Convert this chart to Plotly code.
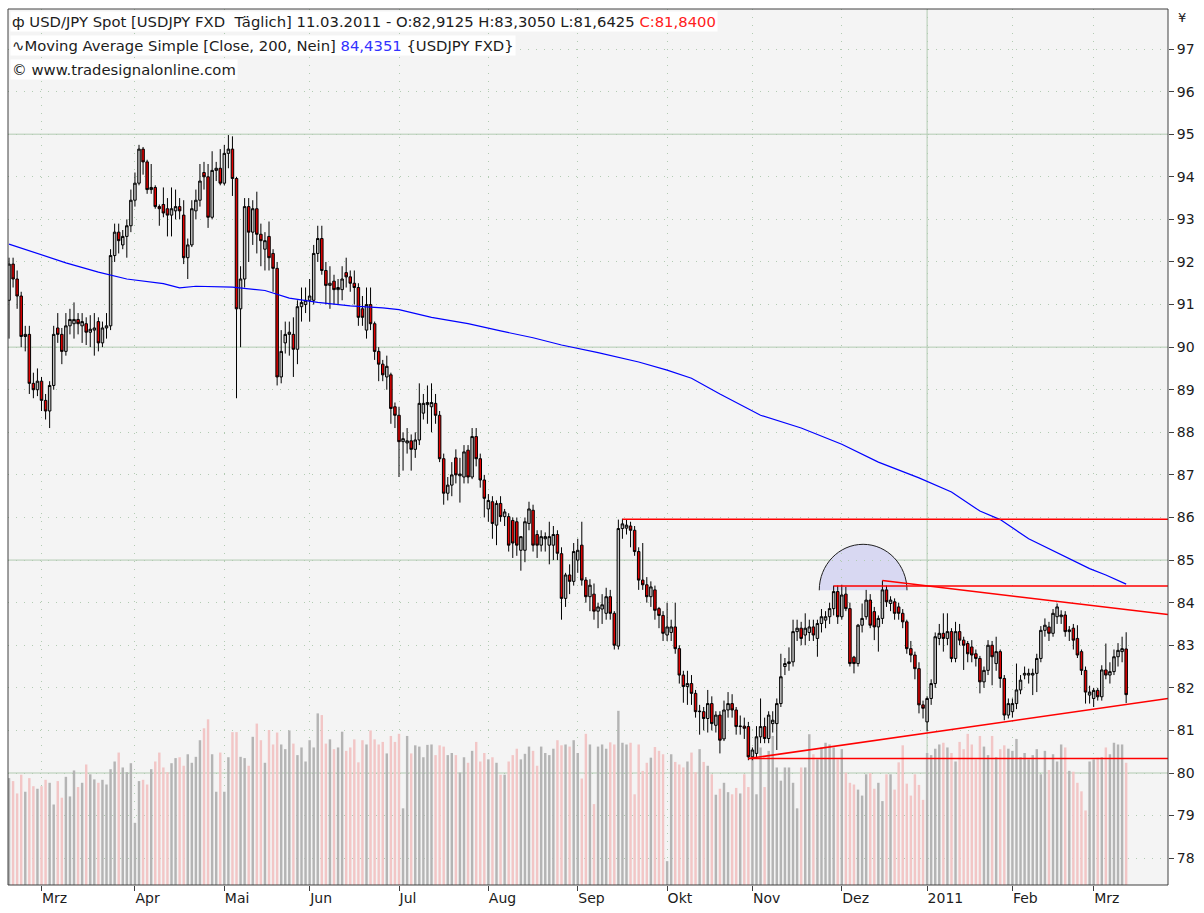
import pandas as pd
import plotly.graph_objects as go

# ---------------------------------------------------------------- data
FIRST_DAY = "2010-02-17"
LAST_DAY = "2011-03-11"
HOLIDAYS = ["2010-12-24", "2010-12-31"]          # no candles on these days

# (open, high, low, close) per trading day, month by month
OHLC_2010_02 = [
    (91.1, 92.1, 90.2, 91.95), (91.95, 92.1, 91.4, 91.6), (91.6, 91.8, 90.9, 91.2),
    (91.2, 91.3, 90.0, 90.25), (90.25, 90.5, 89.9, 90.3), (90.3, 90.5, 88.9, 89.15),
    (89.15, 89.4, 88.8, 89.0), (89.0, 89.5, 88.85, 89.2)]
OHLC_2010_03 = [
    (89.2, 89.3, 88.5, 88.75), (88.75, 88.9, 88.3, 88.5), (88.5, 89.2, 88.1, 89.1),
    (89.1, 90.5, 89.0, 90.3), (90.45, 90.8, 90.1, 90.3), (90.3, 90.45, 89.6, 89.9),
    (89.9, 90.8, 89.8, 90.5), (90.5, 90.9, 90.3, 90.65), (90.55, 91.05, 90.2, 90.65),
    (90.65, 90.8, 90.3, 90.55), (90.5, 90.8, 90.1, 90.6), (90.55, 90.7, 90.05, 90.35),
    (90.35, 90.75, 90.0, 90.42), (90.4, 90.8, 89.8, 90.45), (90.6, 90.7, 89.9, 90.1),
    (90.1, 90.6, 90.0, 90.45), (90.45, 90.8, 90.2, 90.5), (90.5, 92.3, 90.4, 92.15),
    (92.15, 92.9, 92.0, 92.7), (92.7, 92.9, 92.2, 92.5), (92.4, 92.75, 92.3, 92.6),
    (92.6, 93.0, 92.1, 92.85), (92.85, 93.7, 92.7, 93.45)]
OHLC_2010_04 = [
    (93.45, 94.1, 93.3, 93.85), (93.85, 94.75, 93.8, 94.65), (94.65, 94.7, 94.05, 94.35),
    (94.35, 94.4, 93.6, 93.7), (93.7, 94.3, 93.6, 93.75), (93.75, 93.8, 93.25, 93.3),
    (93.3, 93.35, 92.85, 93.25), (93.35, 93.75, 93.05, 93.15), (93.25, 93.5, 92.6, 93.1),
    (93.1, 93.75, 92.6, 93.25), (93.2, 93.7, 93.0, 93.3), (93.3, 93.5, 93.0, 93.2),
    (93.1, 93.45, 91.95, 92.1), (92.1, 92.55, 91.6, 92.4), (92.4, 93.45, 92.35, 93.25),
    (93.2, 93.7, 93.0, 93.45), (93.45, 94.3, 93.3, 93.9), (94.1, 94.35, 93.7, 94.0),
    (94.0, 94.3, 92.8, 93.05), (93.05, 94.6, 93.0, 94.15), (94.15, 94.35, 93.9, 94.2),
    (94.2, 94.65, 93.8, 93.85)]
OHLC_2010_05 = [
    (93.85, 94.75, 93.8, 94.55), (94.55, 94.98, 94.2, 94.65), (94.65, 94.95, 93.55, 93.96),
    (93.96, 94.0, 88.8, 90.9), (90.9, 91.9, 90.0, 91.6), (91.6, 93.5, 91.4, 93.3),
    (93.3, 93.5, 92.0, 92.7), (92.7, 93.45, 92.4, 93.25), (93.25, 93.65, 92.2, 92.65),
    (92.65, 92.9, 91.9, 92.5), (92.3, 92.7, 91.8, 92.5), (92.6, 92.95, 91.8, 92.1),
    (92.2, 92.3, 91.3, 91.85), (91.85, 92.0, 89.1, 89.3), (89.3, 90.4, 89.15, 89.9),
    (90.1, 90.6, 89.85, 90.3), (90.3, 90.6, 89.8, 90.35), (90.3, 90.7, 89.3, 89.95),
    (89.95, 91.1, 89.6, 90.95), (90.95, 91.4, 90.6, 91.05), (91.0, 91.4, 90.8, 91.1)]
OHLC_2010_06 = [
    (91.1, 91.6, 90.6, 91.2), (91.1, 92.4, 91.0, 92.2), (92.2, 92.85, 92.0, 92.55),
    (92.55, 92.85, 91.7, 91.8), (91.8, 92.0, 91.0, 91.45), (91.45, 91.9, 90.9, 91.5),
    (91.55, 91.7, 91.0, 91.35), (91.35, 91.6, 91.0, 91.4), (91.35, 91.9, 91.1, 91.6),
    (91.75, 92.1, 91.4, 91.65), (91.65, 91.8, 91.3, 91.5), (91.5, 91.8, 91.0, 91.4),
    (91.4, 91.5, 90.5, 90.7), (90.9, 91.2, 90.5, 90.7), (90.4, 91.4, 90.2, 91.0),
    (91.0, 91.4, 90.4, 90.55), (90.55, 90.6, 89.7, 89.9), (89.9, 90.0, 89.2, 89.6),
    (89.6, 89.7, 89.2, 89.35), (89.3, 89.8, 89.0, 89.55), (89.35, 89.4, 88.2, 88.56),
    (88.6, 88.7, 88.1, 88.4)]
OHLC_2010_07 = [
    (88.4, 88.6, 86.95, 87.78), (87.78, 88.0, 87.1, 87.85), (87.75, 88.1, 87.5, 87.8),
    (87.8, 87.95, 87.1, 87.6), (87.6, 88.0, 87.4, 87.82), (87.82, 89.15, 87.7, 88.68),
    (88.45, 88.9, 88.3, 88.68), (88.65, 89.1, 88.2, 88.7), (88.6, 89.15, 88.0, 88.7),
    (88.68, 88.9, 88.2, 88.4), (88.4, 88.5, 87.3, 87.38), (87.38, 87.5, 86.3, 86.57),
    (86.57, 86.95, 86.4, 86.76), (86.76, 87.3, 86.5, 87.0), (87.4, 87.6, 86.8, 87.0),
    (86.98, 87.4, 86.35, 87.02), (86.95, 87.7, 86.8, 87.54), (87.58, 87.7, 86.8, 86.95),
    (86.95, 88.1, 86.9, 87.9), (87.9, 88.1, 87.2, 87.38), (87.38, 87.5, 86.7, 86.88),
    (86.88, 87.0, 86.0, 86.45)]
OHLC_2010_08 = [
    (86.2, 86.55, 85.9, 86.4), (86.37, 86.5, 85.5, 85.86), (85.82, 86.4, 85.35, 86.33),
    (86.33, 86.5, 85.9, 86.02), (86.02, 86.2, 85.8, 86.13), (86.02, 86.1, 85.2, 85.35),
    (85.93, 86.0, 85.05, 85.4), (85.9, 86.0, 85.1, 85.35), (85.23, 85.55, 84.75, 85.55),
    (85.23, 86.0, 84.95, 85.9), (85.86, 86.37, 85.7, 86.2), (86.17, 86.3, 85.2, 85.35),
    (85.6, 85.7, 85.05, 85.35), (85.35, 85.7, 85.2, 85.55), (85.5, 85.65, 85.2, 85.55),
    (85.35, 85.9, 84.9, 85.55), (85.35, 85.8, 85.0, 85.6), (85.6, 85.7, 85.0, 85.16),
    (85.15, 85.3, 83.6, 84.1), (84.1, 84.7, 83.9, 84.65), (84.65, 84.9, 84.2, 84.5),
    (84.5, 85.4, 84.4, 85.2)]
OHLC_2010_09 = [
    (85.0, 85.5, 84.7, 85.23), (85.35, 85.9, 84.4, 84.53), (84.53, 84.6, 84.0, 84.14),
    (84.14, 84.55, 83.8, 84.41), (84.2, 84.45, 83.6, 83.8), (83.8, 84.0, 83.4, 83.9),
    (83.85, 84.2, 83.5, 83.95), (83.75, 84.35, 83.6, 84.14), (84.14, 84.3, 83.6, 83.75),
    (83.75, 83.8, 82.9, 83.0), (82.98, 85.95, 82.9, 85.74), (85.74, 85.97, 85.5, 85.85),
    (85.75, 85.95, 85.6, 85.82), (85.8, 85.9, 85.3, 85.7), (85.7, 85.8, 85.1, 85.2),
    (85.2, 85.3, 84.3, 84.53), (84.53, 85.4, 84.3, 84.42), (84.42, 84.6, 84.0, 84.14),
    (84.14, 84.5, 83.9, 84.37), (84.3, 84.4, 83.6, 83.82), (83.86, 83.9, 83.4, 83.7),
    (83.7, 83.8, 83.1, 83.28)]
OHLC_2010_10 = [
    (83.24, 84.0, 83.1, 83.43), (83.3, 83.6, 83.1, 83.43), (83.43, 84.0, 82.8, 82.92),
    (82.92, 83.0, 82.1, 82.3), (82.3, 82.4, 81.65, 82.03), (82.03, 82.4, 81.6, 82.1),
    (82.1, 82.3, 81.6, 81.87), (81.87, 81.95, 81.3, 81.44), (81.44, 81.6, 80.9, 81.45),
    (81.44, 81.55, 81.0, 81.28), (81.28, 81.95, 80.95, 81.63), (81.63, 81.8, 81.0, 81.16),
    (81.12, 81.45, 80.95, 81.36), (81.36, 81.45, 80.46, 80.77), (80.8, 81.7, 80.75, 81.48),
    (81.48, 81.9, 81.3, 81.63), (81.63, 81.85, 81.3, 81.48), (81.48, 81.55, 80.9, 81.09),
    (81.09, 81.35, 80.9, 81.1), (81.1, 81.3, 80.8, 81.05), (81.09, 81.2, 80.3, 80.38)]
OHLC_2010_11 = [
    (80.38, 80.6, 80.3, 80.54), (80.46, 81.1, 80.35, 80.85), (80.85, 81.75, 80.7, 81.09),
    (81.09, 81.3, 80.7, 80.81), (80.81, 81.45, 80.7, 81.36), (81.16, 81.45, 80.95, 81.24),
    (81.16, 81.75, 80.54, 81.63), (81.63, 82.8, 81.55, 82.26), (82.5, 82.7, 82.3, 82.57),
    (82.57, 82.95, 82.4, 82.61), (82.61, 83.6, 82.5, 83.32), (83.32, 83.6, 83.1, 83.4),
    (83.4, 83.55, 83.0, 83.16), (83.24, 83.75, 83.0, 83.4), (83.3, 83.6, 83.1, 83.43),
    (83.43, 83.6, 83.1, 83.24), (83.16, 83.6, 82.73, 83.51), (83.51, 83.85, 83.3, 83.67),
    (83.59, 83.8, 83.4, 83.67), (83.67, 84.0, 83.5, 83.86), (83.86, 84.4, 83.7, 84.26),
    (84.26, 84.4, 83.5, 83.67)]
OHLC_2010_12 = [
    (83.67, 84.42, 83.6, 84.18), (84.2, 84.37, 83.8, 83.86), (83.86, 84.0, 82.5, 82.57),
    (82.72, 82.75, 82.34, 82.57), (82.57, 83.5, 82.5, 83.47), (83.47, 83.98, 83.3, 83.63),
    (83.67, 84.3, 83.6, 84.06), (84.06, 84.2, 83.4, 83.47), (83.79, 83.9, 83.12, 83.43),
    (83.43, 83.7, 82.85, 83.63), (83.63, 84.52, 83.5, 84.3), (84.3, 84.4, 83.9, 84.02),
    (83.98, 84.15, 83.8, 84.06), (84.02, 84.1, 83.6, 83.75), (83.9, 84.0, 83.6, 83.75),
    (83.75, 83.85, 83.4, 83.55), (83.55, 83.6, 82.8, 82.92), (82.92, 83.1, 82.6, 82.77),
    (82.77, 82.85, 82.2, 82.45), (82.45, 82.6, 81.4, 81.6), (81.6, 81.7, 81.28, 81.52)]
OHLC_2011_01 = [
    (81.2, 81.8, 80.98, 81.75), (81.75, 82.2, 81.6, 82.1), (82.1, 83.3, 82.0, 83.2),
    (83.16, 83.5, 83.0, 83.28), (83.28, 83.75, 82.85, 83.16), (83.16, 83.75, 83.0, 83.32),
    (83.32, 83.4, 82.6, 82.69), (82.69, 83.55, 82.6, 83.32), (83.32, 83.5, 83.0, 83.12),
    (83.12, 83.2, 82.42, 83.0), (83.04, 83.1, 82.6, 82.8), (82.96, 83.12, 82.6, 82.77),
    (82.8, 82.9, 82.5, 82.69), (82.69, 82.75, 81.87, 82.14), (82.14, 82.5, 82.0, 82.41),
    (82.41, 83.12, 82.3, 83.0), (83.0, 83.1, 82.06, 82.73), (82.57, 83.2, 82.4, 82.85),
    (82.85, 82.9, 82.0, 82.22), (82.22, 82.3, 81.24, 81.36), (81.36, 81.75, 81.28, 81.63)]
OHLC_2011_02 = [
    (81.44, 81.75, 81.3, 81.63), (81.63, 82.57, 81.5, 81.95), (81.95, 82.3, 81.85, 82.18),
    (82.3, 82.5, 82.2, 82.34), (82.3, 82.45, 82.1, 82.34), (82.3, 82.45, 81.83, 82.34),
    (82.34, 82.8, 81.9, 82.69), (82.69, 83.45, 82.6, 83.35), (83.35, 83.63, 83.2, 83.47),
    (83.43, 83.55, 83.1, 83.28), (83.28, 83.85, 83.2, 83.75), (83.67, 83.98, 83.5, 83.9),
    (83.67, 83.82, 83.5, 83.71), (83.71, 83.8, 83.2, 83.32), (83.32, 83.45, 83.1, 83.36),
    (83.4, 83.5, 82.9, 83.12), (83.16, 83.47, 82.7, 82.77), (82.85, 82.9, 82.3, 82.41),
    (82.41, 82.5, 81.63, 81.9), (81.83, 82.05, 81.63, 81.9)]
OHLC_2011_03 = [
    (81.75, 82.0, 81.55, 81.94), (81.94, 82.0, 81.7, 81.79), (81.79, 82.53, 81.7, 82.42),
    (82.42, 83.04, 82.2, 82.3), (82.3, 82.6, 82.1, 82.38), (82.38, 82.9, 82.3, 82.73),
    (82.73, 83.05, 82.5, 82.88), (82.85, 83.2, 82.6, 82.92),
    (82.9125, 83.3050, 81.6425, 81.8400)]

# histogram under the price (arbitrary units)
VOL_2010_02 = [2.51, 2.44, 2.15, 2.59, 2.19, 2.51, 2.32, 2.26]
VOL_2010_03 = [2.32, 2.47, 2.40, 1.89, 2.44, 2.05, 2.54, 2.08, 2.69, 2.30, 2.40, 2.83,
               2.60, 2.48, 2.40, 2.47, 2.36, 2.72, 2.90, 3.11, 2.76, 2.65, 2.86]
VOL_2010_04 = [1.46, 2.44, 2.47, 2.36, 2.72, 2.90, 3.11, 2.76, 2.65, 2.86, 2.98, 3.00,
               2.80, 3.07, 2.87, 3.01, 3.40, 3.68, 3.89, 3.07, 2.19, 3.11]
VOL_2010_05 = [2.19, 3.00, 3.59, 3.59, 3.01, 2.98, 2.80, 3.48, 3.79, 3.40, 2.87, 3.64,
               3.30, 3.58, 3.30, 3.19, 3.63, 3.32, 3.05, 3.23, 2.90]
VOL_2010_06 = [3.40, 3.23, 4.03, 3.99, 3.32, 3.42, 3.19, 3.23, 3.60, 3.15, 3.23, 3.42,
               2.88, 3.40, 3.30, 3.63, 3.42, 3.30, 3.36, 3.09, 3.50, 3.36]
VOL_2010_07 = [3.55, 1.80, 3.50, 3.09, 3.28, 3.25, 3.00, 3.29, 3.30, 3.05, 3.28, 3.25,
               3.05, 3.10, 3.05, 2.64, 3.00, 2.87, 3.15, 3.36, 2.90, 3.10]
VOL_2010_08 = [2.95, 3.00, 2.87, 2.59, 2.59, 2.90, 3.05, 3.20, 2.95, 3.08, 3.25, 3.15,
               2.80, 3.25, 3.10, 3.05, 3.20, 3.40, 3.28, 3.30, 3.25, 3.40]
VOL_2010_09 = [3.10, 2.50, 3.55, 3.30, 1.90, 3.25, 3.30, 3.20, 3.35, 3.30, 4.09, 3.34,
               3.30, 3.34, 2.13, 3.30, 2.68, 2.87, 2.99, 3.24, 3.15, 3.07]
VOL_2010_10 = [0.56, 3.07, 2.89, 2.83, 2.76, 2.90, 3.11, 2.65, 3.19, 2.89, 2.80, 2.60,
               2.12, 2.26, 2.40, 2.18, 2.13, 2.28, 2.15, 2.60, 2.30]
VOL_2010_11 = [2.99, 2.13, 3.23, 2.30, 3.15, 3.50, 2.76, 2.45, 2.76, 2.76, 2.40, 1.80,
               2.76, 2.76, 3.54, 3.07, 2.95, 3.23, 3.34, 3.30, 3.23, 2.95]
VOL_2010_12 = [3.19, 2.64, 2.40, 2.36, 2.24, 2.10, 2.60, 2.63, 2.26, 2.40, 1.97, 2.60,
               2.60, 2.24, 2.88, 3.28, 2.38, 2.10, 2.60, 2.35, 2.00]
VOL_2011_01 = [3.10, 3.05, 3.20, 3.30, 3.34, 3.23, 3.10, 2.90, 3.36, 3.19, 3.55, 3.30,
               2.95, 3.50, 3.25, 3.05, 3.50, 3.00, 3.19, 3.28, 3.20]
VOL_2011_02 = [3.15, 3.43, 3.00, 3.10, 2.95, 3.05, 3.19, 2.60, 3.15, 2.70, 3.07, 2.90,
               3.30, 3.23, 2.68, 2.66, 2.40, 2.20, 1.75, 2.90]
VOL_2011_03 = [2.95, 2.99, 3.00, 3.23, 3.07, 3.34, 3.30, 3.30, 2.87]

# 200-day simple moving average (sampled)
MA_DATES = ["2010-02-17", "2010-03-01", "2010-03-09", "2010-03-19", "2010-03-30",
            "2010-04-12", "2010-04-16", "2010-04-22", "2010-05-05", "2010-05-17",
            "2010-05-25", "2010-06-03", "2010-06-15", "2010-06-25", "2010-07-01",
            "2010-07-13", "2010-07-26", "2010-08-05", "2010-08-17", "2010-08-26",
            "2010-09-08", "2010-09-22", "2010-10-01", "2010-10-11", "2010-10-20",
            "2010-11-03", "2010-11-17", "2010-12-01", "2010-12-14", "2010-12-29",
            "2011-01-11", "2011-01-20", "2011-01-27", "2011-02-07", "2011-02-22",
            "2011-02-28", "2011-03-04", "2011-03-11"]
MA_VALUES = [92.42, 92.17, 91.98, 91.76, 91.60, 91.49, 91.39, 91.43, 91.41, 91.33,
             91.15, 91.05, 90.97, 90.92, 90.88, 90.70, 90.55, 90.38, 90.22, 90.05,
             89.87, 89.65, 89.46, 89.27, 88.90, 88.40, 88.10, 87.72, 87.30, 86.93,
             86.60, 86.15, 85.95, 85.50, 85.00, 84.80, 84.65, 84.4351]

MONTH_STARTS = ["2010-03-01", "2010-04-01", "2010-05-03", "2010-06-01", "2010-07-01",
                "2010-08-02", "2010-09-01", "2010-10-01", "2010-11-01", "2010-12-01",
                "2011-01-03", "2011-02-01", "2011-03-01"]
MONTH_LABELS = ["Mrz", "Apr", "Mai", "Jun", "Jul", "Aug", "Sep", "Okt", "Nov", "Dez",
                "2011", "Feb", "Mrz"]
YEAR_START = "2011-01-03"
PRICE_TICKS = list(range(78, 98))
MAJOR_LEVELS = [80, 85, 90, 95]

# drawn lines: horizontal levels (start date, level) running to the right edge
LEVEL_START = ["2010-09-16", "2010-11-29", "2010-10-29"]
LEVEL_VALUE = [85.96, 84.39, 80.34]
# sloped trend lines: start date/level, level reached at the right edge
TREND_START = ["2010-12-15", "2010-10-29"]
TREND_START_VALUE = [84.52, 80.34]
TREND_END_VALUE = [83.72, 81.75]
# half-circle marker over the December double top
ARC_CENTER = "2010-12-08"
ARC_BASE = 84.29
ARC_TOP = 85.37
ARC_HALF_DAYS = 10.8

# ---------------------------------------------------------------- build
months = [OHLC_2010_02, OHLC_2010_03, OHLC_2010_04, OHLC_2010_05, OHLC_2010_06,
          OHLC_2010_07, OHLC_2010_08, OHLC_2010_09, OHLC_2010_10, OHLC_2010_11,
          OHLC_2010_12, OHLC_2011_01, OHLC_2011_02, OHLC_2011_03]
vols = [VOL_2010_02, VOL_2010_03, VOL_2010_04, VOL_2010_05, VOL_2010_06, VOL_2010_07,
        VOL_2010_08, VOL_2010_09, VOL_2010_10, VOL_2010_11, VOL_2010_12, VOL_2011_01,
        VOL_2011_02, VOL_2011_03]
rows = [r for m in months for r in m]
volume = [v for m in vols for v in m]

days = pd.bdate_range(FIRST_DAY, LAST_DAY)
days = days[~days.isin(pd.to_datetime(HOLIDAYS))]
n = min(len(days), len(rows), len(volume))
rows, volume, days = rows[:n], volume[:n], days[:n]
pos = {d.strftime("%Y-%m-%d"): i for i, d in enumerate(days)}
xs = list(range(n))

opens = [r[0] for r in rows]
highs = [r[1] for r in rows]
lows = [r[2] for r in rows]
closes = [r[3] for r in rows]

X_MIN, X_MAX = -0.25, 285.3
Y_MIN, Y_MAX = 77.37, 97.94

FONT = "DejaVu Sans"
TXT = "#1c1c1c"
GRID = "#b2cbb2"
GREY_UP = "#c4c4c4"
RED_DN = "#e00000"

fig = go.Figure()

fig.add_trace(go.Bar(
    x=xs, y=volume, yaxis="y", width=0.6,
    marker=dict(color=["#b4b4b4" if c >= o else "#f2c6c6" for o, c in zip(opens, closes)],
                line=dict(width=0)),
    hoverinfo="skip"))

fig.add_trace(go.Candlestick(
    x=xs, open=opens, high=highs, low=lows, close=closes, yaxis="y2",
    increasing=dict(line=dict(color="black", width=1), fillcolor=GREY_UP),
    decreasing=dict(line=dict(color="black", width=1), fillcolor=RED_DN),
    whiskerwidth=0, hoverinfo="skip"))

fig.add_trace(go.Scatter(
    x=[pos[d] for d in MA_DATES], y=MA_VALUES, yaxis="y2", mode="lines",
    line=dict(color="#0000ff", width=1.2), hoverinfo="skip"))

shapes = []
for lv in MAJOR_LEVELS:
    shapes.append(dict(type="line", xref="paper", yref="y2", x0=0, x1=1, y0=lv, y1=lv,
                       line=dict(color=GRID, width=1), layer="below"))
shapes.append(dict(type="line", xref="x", yref="paper", x0=pos[YEAR_START],
                   x1=pos[YEAR_START], y0=0, y1=1,
                   line=dict(color=GRID, width=1), layer="below"))

# half circle
cx = pos[ARC_CENTER] + 0.25
rx, ry, cy = ARC_HALF_DAYS, ARC_TOP - ARC_BASE, ARC_BASE
K = 0.5523
arc = (f"M {cx-rx},{cy} C {cx-rx},{cy+K*ry} {cx-K*rx},{cy+ry} {cx},{cy+ry} "
       f"C {cx+K*rx},{cy+ry} {cx+rx},{cy+K*ry} {cx+rx},{cy}")
shapes.append(dict(type="path", xref="x", yref="y2", path=arc + " Z",
                   fillcolor="#d8d8f2", line=dict(width=0), layer="below"))
shapes.append(dict(type="path", xref="x", yref="y2", path=arc,
                   fillcolor="rgba(0,0,0,0)", line=dict(color="#202020", width=1),
                   layer="above"))

for d, lv in zip(LEVEL_START, LEVEL_VALUE):
    shapes.append(dict(type="line", xref="x", yref="y2", x0=pos[d], x1=X_MAX,
                       y0=lv, y1=lv, line=dict(color="#ff0000", width=1.6), layer="above"))
for d, v0, v1 in zip(TREND_START, TREND_START_VALUE, TREND_END_VALUE):
    shapes.append(dict(type="line", xref="x", yref="y2", x0=pos[d], x1=X_MAX,
                       y0=v0, y1=v1, line=dict(color="#ff0000", width=1.6), layer="above"))

# frame
shapes.append(dict(type="rect", xref="paper", yref="paper", x0=0, x1=1, y0=0, y1=1,
                   line=dict(color="#404040", width=1), fillcolor="rgba(0,0,0,0)",
                   layer="above"))


def de(v):
    return f"{v:.4f}".replace(".", ",")


last = rows[-1]
line1 = ("\u0444 USD/JPY Spot [USDJPY FXD\u00a0\u00a0T\u00e4glich] "
         f"{days[-1].strftime('%d.%m.%Y')} - O:{de(last[0])} H:{de(last[1])} "
         f"L:{de(last[2])} <span style='color:#ff2020'>C:{de(last[3])}</span>")
line2 = ("\u223fMoving Average Simple [Close, 200, Nein] "
         f"<span style='color:#3232ff'>{de(MA_VALUES[-1])}</span> {{USDJPY FXD}}")
line3 = "\u00a9 www.tradesignalonline.com"

PLOT_TOP, PLOT_BOTTOM, PLOT_LEFT, PLOT_W = 9, 885, 8, 1160
def py(p):
    return (PLOT_BOTTOM - p) / (PLOT_BOTTOM - PLOT_TOP)

annotations = []
for txt, ypix in [(line1, 22), (line2, 45), (line3, 69)]:
    annotations.append(dict(text=txt, xref="paper", yref="paper", x=2 / PLOT_W, y=py(ypix),
                            xanchor="left", yanchor="middle", showarrow=False,
                            bgcolor="white", borderpad=1,
                            font=dict(family=FONT, size=14.8, color=TXT)))
annotations.append(dict(text="\u00a5", xref="paper", yref="paper",
                        x=(1182 - PLOT_LEFT) / PLOT_W, y=py(17), xanchor="center",
                        yanchor="middle", showarrow=False,
                        font=dict(family=FONT, size=13, color=TXT)))

fig.update_layout(
    width=1204, height=913,
    margin=dict(l=8, r=36, t=9, b=28),
    paper_bgcolor="white", plot_bgcolor="#f4f4f4",
    showlegend=False, hovermode=False, boxgap=0.12,
    font=dict(family=FONT, size=14, color=TXT),
    shapes=shapes, annotations=annotations,
    xaxis=dict(range=[X_MIN, X_MAX], tickmode="array",
               tickvals=[pos[d] for d in MONTH_STARTS], ticktext=MONTH_LABELS,
               ticks="outside", ticklen=5, tickcolor="#404040",
               ticklabelposition="outside right",
               showgrid=True, gridcolor=GRID, griddash="1px,7px", gridwidth=1,
               zeroline=False, showline=False, rangeslider=dict(visible=False),
               tickfont=dict(family=FONT, size=14, color=TXT)),
    yaxis=dict(range=[0, Y_MAX - Y_MIN], visible=False, showgrid=False, zeroline=False),
    yaxis2=dict(overlaying="y", side="right", range=[Y_MIN, Y_MAX],
                tickmode="array", tickvals=PRICE_TICKS,
                ticks="outside", ticklen=5, tickcolor="#404040",
                showgrid=True, gridcolor=GRID, griddash="1px,7px", gridwidth=1,
                zeroline=False, showline=False,
                tickfont=dict(family=FONT, size=14, color=TXT)),
)

fig.write_html("out.html", config={"displayModeBar": False},
               post_script="document.body.style.margin='0';"
                           "document.body.style.overflow='hidden';")
